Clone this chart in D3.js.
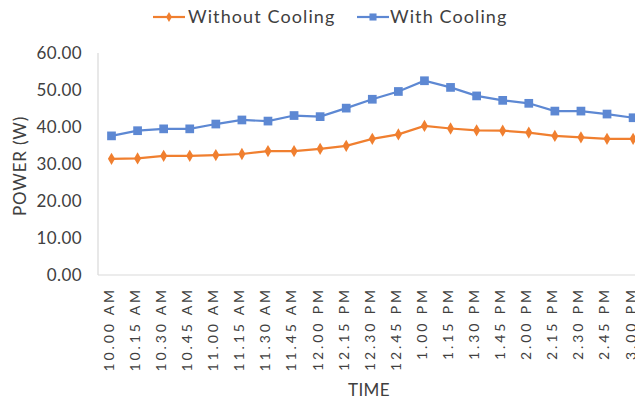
<!DOCTYPE html>
<html>
<head>
<meta charset="utf-8">
<script src="https://cdn.jsdelivr.net/npm/d3@7"></script>
<style>
  html, body { margin: 0; padding: 0; background: #fff; }
  svg { display: block; }
  text { font-family: "Lato", "DejaVu Sans", sans-serif; fill: #404040; }
</style>
</head>
<body>
<svg id="chart" width="635" height="401"></svg>
<script>
// Sampling times, 15-minute steps
const times = ["10.00 AM","10.15 AM","10.30 AM","10.45 AM","11.00 AM","11.15 AM","11.30 AM","11.45 AM",
  "12.00 PM","12.15 PM","12.30 PM","12.45 PM","1.00 PM","1.15 PM","1.30 PM","1.45 PM",
  "2.00 PM","2.15 PM","2.30 PM","2.45 PM","3.00 PM"];

// Power draw in watts
const withoutCooling = [31.4,31.5,32.2,32.2,32.4,32.7,33.5,33.5,34.1,34.9,36.8,38.0,40.3,39.6,39.1,39.0,38.5,37.6,37.2,36.8,36.8];
const withCooling    = [37.6,39.0,39.5,39.5,40.8,41.9,41.6,43.1,42.8,45.1,47.5,49.6,52.5,50.7,48.4,47.2,46.4,44.3,44.3,43.5,42.5];

const yTicks = [0,10,20,30,40,50,60];

const colors = { "Without Cooling": "#f07f2f", "With Cooling": "#5d88d3" };

const svg = d3.select("#chart");
const plot = { left: 98, top: 53, bottom: 275, firstX: 111.5, step: 26.08 };

const x = d3.scalePoint()
  .domain(times)
  .range([plot.firstX, plot.firstX + plot.step * (times.length - 1)]);
const y = d3.scaleLinear().domain([0, 60]).range([plot.bottom, plot.top]);

// Axis lines
svg.append("line")
  .attr("x1", plot.left).attr("x2", plot.left)
  .attr("y1", plot.top).attr("y2", plot.bottom)
  .attr("stroke", "#d9d9d9").attr("stroke-width", 1.2);
svg.append("line")
  .attr("x1", plot.left).attr("x2", 640)
  .attr("y1", plot.bottom).attr("y2", plot.bottom)
  .attr("stroke", "#d9d9d9").attr("stroke-width", 1.2);

// Y axis
const yAxis = svg.append("g")
  .attr("transform", `translate(${plot.left},0)`)
  .call(d3.axisLeft(y).tickValues(yTicks).tickFormat(d3.format(".2f")).tickSize(0).tickPadding(16));
yAxis.select(".domain").remove();
yAxis.selectAll("text")
  .style("font-size", "17px")
  .style("letter-spacing", "0.4px")
  .style("font-family", "Lato, 'DejaVu Sans', sans-serif")
  .attr("fill", "#404040");

// X axis
const xAxis = svg.append("g")
  .attr("transform", `translate(0,${plot.bottom})`)
  .call(d3.axisBottom(x).tickSize(0));
xAxis.select(".domain").remove();
xAxis.selectAll("text")
  .style("font-size", "14px")
  .style("letter-spacing", "2.9px")
  .style("font-family", "Lato, 'DejaVu Sans', sans-serif")
  .attr("fill", "#404040")
  .attr("text-anchor", "end")
  .attr("transform", "rotate(-90)")
  .attr("x", -12)
  .attr("y", -3)
  .attr("dy", "0.35em");

// Axis titles
svg.append("text")
  .attr("transform", "translate(26,166) rotate(-90)")
  .attr("text-anchor", "middle")
  .style("font-size", "17px")
  .style("letter-spacing", "0.8px")
  .text("POWER (W)");
svg.append("text")
  .attr("x", 369).attr("y", 396)
  .attr("text-anchor", "middle")
  .style("font-size", "17px")
  .style("letter-spacing", "0.4px")
  .text("TIME");

// Series lines and markers
const data = [
  { name: "Without Cooling", values: withoutCooling, symbol: d3.symbolDiamond, size: 44 },
  { name: "With Cooling", values: withCooling, symbol: d3.symbolSquare, size: 76 }
];

const line = d3.line().x((d, i) => x(times[i])).y(d => y(d));

data.forEach(s => {
  svg.append("path")
    .datum(s.values)
    .attr("fill", "none")
    .attr("stroke", colors[s.name])
    .attr("stroke-width", 2.2)
    .attr("d", line);
  svg.append("g").selectAll("path")
    .data(s.values)
    .join("path")
    .attr("transform", (d, i) => `translate(${x(times[i])},${y(d)})`)
    .attr("d", d3.symbol().type(s.symbol).size(s.size))
    .attr("fill", colors[s.name]);
});

// Legend
const legendItems = [
  { name: "Without Cooling", lx: 153, tx: 188, symbol: d3.symbolDiamond, size: 30 },
  { name: "With Cooling", lx: 357, tx: 390, symbol: d3.symbolSquare, size: 50 }
];
const ly = 17;
legendItems.forEach(it => {
  const g = svg.append("g");
  g.append("line")
    .attr("x1", it.lx).attr("x2", it.lx + 32)
    .attr("y1", ly).attr("y2", ly)
    .attr("stroke", colors[it.name]).attr("stroke-width", 2.2);
  g.append("path")
    .attr("transform", `translate(${it.lx + 16},${ly})`)
    .attr("d", d3.symbol().type(it.symbol).size(it.size))
    .attr("fill", colors[it.name]);
  g.append("text")
    .attr("x", it.tx).attr("y", ly)
    .attr("dy", "0.35em")
    .style("font-size", "18px")
    .style("letter-spacing", "1.1px")
    .text(it.name);
});
</script>
</body>
</html>
